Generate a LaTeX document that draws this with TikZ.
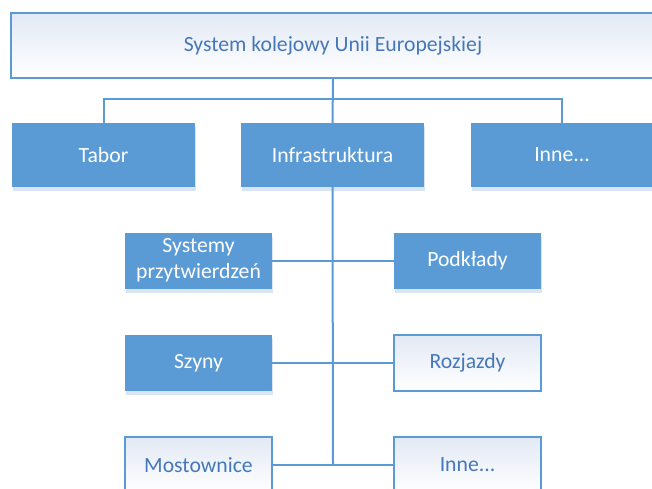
\documentclass[tikz,border=0pt]{standalone}
\usepackage{fontspec}
\setmainfont{Carlito}
\usepackage{tikz}
\usetikzlibrary{shapes,shadows}

\definecolor{boxblue}{RGB}{91,155,213}
\definecolor{textblue}{RGB}{70,120,185}
\definecolor{fadeblue}{RGB}{226,233,245}
\definecolor{shadeblue}{RGB}{218,229,243}

\tikzset{
  fullbox/.style={rectangle, fill=boxblue, text=white, align=center,
    inner sep=0pt, font=\fontsize{21.7}{25.7}\selectfont,
    drop shadow={shadow xshift=1pt, shadow yshift=-4pt, fill=shadeblue, opacity=1}},
  lightbox/.style={rectangle, draw=boxblue, line width=1.5pt, top color=fadeblue,
    bottom color=white, text=textblue, align=center, inner sep=0pt,
    font=\fontsize{21.7}{25.7}\selectfont},
  link/.style={draw=boxblue, line width=2pt}
}

\begin{document}
\begin{tikzpicture}[x=1pt,y=-1pt]
        \clip (0,0) rectangle (652,489); % page
        \fill[white] (0,0) rectangle (652,489);
        \node[lightbox, minimum width=644pt, minimum height=65pt] (sys) at (333,45.5)
          {System kolejowy Unii Europejskiej}; % top
        \node[fullbox, minimum width=183pt, minimum height=64pt] (tabor) at (103.5,155) {Tabor};
        \node[fullbox, minimum width=183pt, minimum height=64pt] (infra) at (332.5,155) {Infrastruktura};
        \node[fullbox, minimum width=183pt, minimum height=64pt] (inne) at (562,155) {Inne...};
        \node[fullbox, minimum width=147pt, minimum height=56pt] (przyt) at (198.5,260.5)
          {Systemy\\przytwierdzeń};
        \node[fullbox, minimum width=147pt, minimum height=56pt] (podkl) at (467.5,260.5) {Podkłady};
        \node[fullbox, minimum width=147pt, minimum height=56pt] (szyny) at (198.5,363) {Szyny};
        \node[lightbox, minimum width=147pt, minimum height=56pt] (rozj) at (467.5,363) {Rozjazdy};
        \node[lightbox, minimum width=147pt, minimum height=56pt] (most) at (198.5,465) {Mostownice};
        \node[lightbox, minimum width=147pt, minimum height=56pt] (inneb) at (467.5,465) {Inne...};
        \coordinate (bus) at (333,99); % branch line
        \coordinate (spine) at (333,465); % end of trunk
        \draw[link] (sys.south) -- (infra.north);
        \draw[link] (tabor.north) |- (bus) -| (inne.north);
        \draw[link] (infra.south) -- (spine);
        \draw[link] (przyt.east) -- (podkl.west);
        \draw[link] (szyny.east) -- (rozj.west);
        \draw[link] (most.east) -- (inneb.west);
      \end{tikzpicture}
\end{document}
